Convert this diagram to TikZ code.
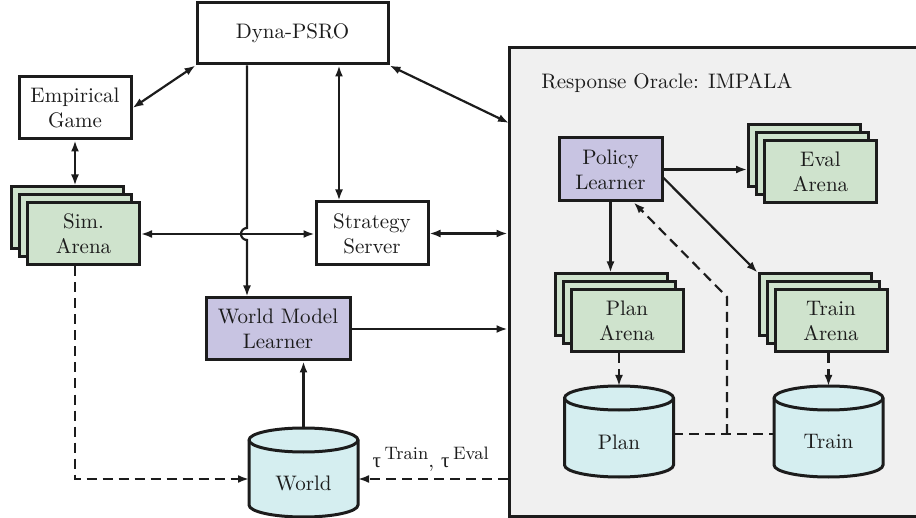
\documentclass[tikz,border=0pt]{standalone}
\usepackage{fontspec}
\newfontfamily\grk{Liberation Serif}
\usetikzlibrary{arrows.meta,calc}
\definecolor{lgreen}{HTML}{CFE3CD}
\definecolor{lviolet}{HTML}{C8C4E2}
\definecolor{lcyan}{HTML}{D5EEF0}
\definecolor{lgrey}{HTML}{F0F0F0}
\definecolor{ink}{HTML}{1C1C1C}
\tikzset{
  bx/.style={draw=ink, line width=1.5pt, align=center, inner sep=0pt, text=ink},
  whitebox/.style={bx, fill=white},
  learner/.style={bx, fill=lviolet},
  arena/.style={bx, fill=lgreen, minimum width=56pt, minimum height=31pt},
  cylst/.style={draw=ink, line width=1.5pt, fill=lcyan},
  conn/.style={draw=ink, line width=1.1pt},
  arr/.style={conn, -{Latex[length=5.5pt,width=4pt]}},
  darr/.style={conn, {Latex[length=5.5pt,width=4pt]}-{Latex[length=5.5pt,width=4pt]}},
  dsh/.style={dash pattern=on 5pt off 3pt},
}
\newcommand\drawcyl[6]{% cx, ytop-center, ybot-center, name, label, label y
  \filldraw[cylst] (#1-54.5,#2) -- (#1-54.5,#3)
     arc[start angle=180,end angle=360,x radius=54.5,y radius=12]
     -- (#1+54.5,#2)
     arc[start angle=0,end angle=180,x radius=54.5,y radius=12] -- cycle;
  \draw[cylst,fill=none] (#1-54.5,#2) arc[start angle=180,end angle=360,x radius=54.5,y radius=12];
  \coordinate (#4top) at (#1,#2+12);
  \node[text=ink] (#4) at (#1,#6) {#5};
}
\begin{document}
\begin{tikzpicture}[x=0.5pt,y=0.5pt,font=\fontsize{10.5}{12.6}\selectfont]
\clip (0,0) rectangle (916,-518);
\useasboundingbox (0,0) rectangle (916,-518);

% response oracle background
\node[draw=ink, line width=1.5pt, fill=lgrey, minimum width=207pt, minimum height=234pt, inner sep=0pt] (oracle) at (716,-282) {};
\node[anchor=west, text=ink, inner sep=0pt] (otitle) at (541,-83) {Response Oracle: IMPALA};

% left part nodes
\node[whitebox, minimum width=95.5pt, minimum height=30.5pt] (dyna) at (292.5,-33.5) {Dyna-PSRO};
\node[whitebox, minimum width=56pt, minimum height=31pt] (emp) at (75,-108) {Empirical\\Game};
\node[arena] (simb2) at (67.5,-218) {};
\node[arena] (simb1) at (75.5,-226) {};
\node[arena] (sim) at (83.5,-234) {Sim.\\Arena};
\node[whitebox, minimum width=56pt, minimum height=31.5pt] (strat) at (372,-233.5) {Strategy\\Server};
\node[learner, minimum width=72pt, minimum height=31pt] (wml) at (278,-329) {World Model\\Learner};
\drawcyl{303.5}{-440}{-505}{world}{World}{-483}

% oracle internals
\node[learner, minimum width=51.5pt, minimum height=31.5pt] (pol) at (610.5,-169.5) {Policy\\Learner};
\node[arena] (evalb2) at (804.5,-155.5) {};
\node[arena] (evalb1) at (812.5,-163.5) {};
\node[arena] (eval) at (820.5,-171.5) {Eval\\Arena};
\node[arena] (planb2) at (611,-305) {};
\node[arena] (planb1) at (619,-313) {};
\node[arena] (plan) at (627,-321) {Plan\\Arena};
\node[arena] (trainb2) at (815,-305) {};
\node[arena] (trainb1) at (823,-313) {};
\node[arena] (train) at (831,-321) {Train\\Arena};
\drawcyl{619}{-398}{-465}{plandb}{Plan}{-442}
\drawcyl{828.5}{-398}{-465}{traindb}{Train}{-442}

% helper coordinates
\coordinate (xds) at (339,0);
\coordinate (orDyna) at (509,-123);
\coordinate (hop) at (247,-234);
\coordinate (worldW) at (249,-479);
\coordinate (worldE) at (358,-479);
\coordinate (planE) at (673,-434);
\coordinate (trainW) at (774,-434);
\coordinate (junc) at (727,-434);
\coordinate (bend) at (727,-297);

% connectors left
\draw[darr] (emp.east) -- (dyna.south west);
\draw[darr] (emp.south) -- (emp.south |- simb2.north);
\draw[darr] (dyna.south -| xds) -- (strat.north -| xds);
\draw[darr] (dyna.south east) -- (orDyna);
\draw[darr] (sim.east) -- (sim.east -| strat.west);
\draw[darr] (strat.east) -- (strat.east -| oracle.west);
\draw[arr] (dyna.south -| hop) -- ([yshift=3pt]hop)
   arc[start angle=90,end angle=270,radius=6] -- (hop |- wml.north);
\draw[arr] (wml.east) -- (wml.east -| oracle.west);
\draw[arr] (worldtop) -- (worldtop |- wml.south);
\draw[arr, dsh] (sim.south -| emp.south) |- (worldW);
\draw[arr, dsh] (oracle.west |- worldE) -- (worldE)
  node[midway, above=0pt, text=ink, xshift=-1pt] (tau) {{\grk τ}\,\raisebox{0.9ex}{\small Train}, {\grk τ}\,\raisebox{0.9ex}{\small Eval}};

% connectors inside oracle
\draw[arr] (pol.east) -- (pol.east -| evalb2.west);
\draw[arr] (pol.south) -- (pol.south |- planb2.north);
\draw[arr] (pol.-9) -- (trainb2.north west);
\draw[arr, dsh] (plandbtop |- plan.south) -- (plandbtop);
\draw[arr, dsh] (traindbtop |- train.south) -- (traindbtop);
\draw[conn, dsh] (planE) -- (trainW);
\draw[arr, dsh] (junc) -- (bend) -- ($(pol.south)!0.44!(pol.south east)$);
\end{tikzpicture}
\end{document}
